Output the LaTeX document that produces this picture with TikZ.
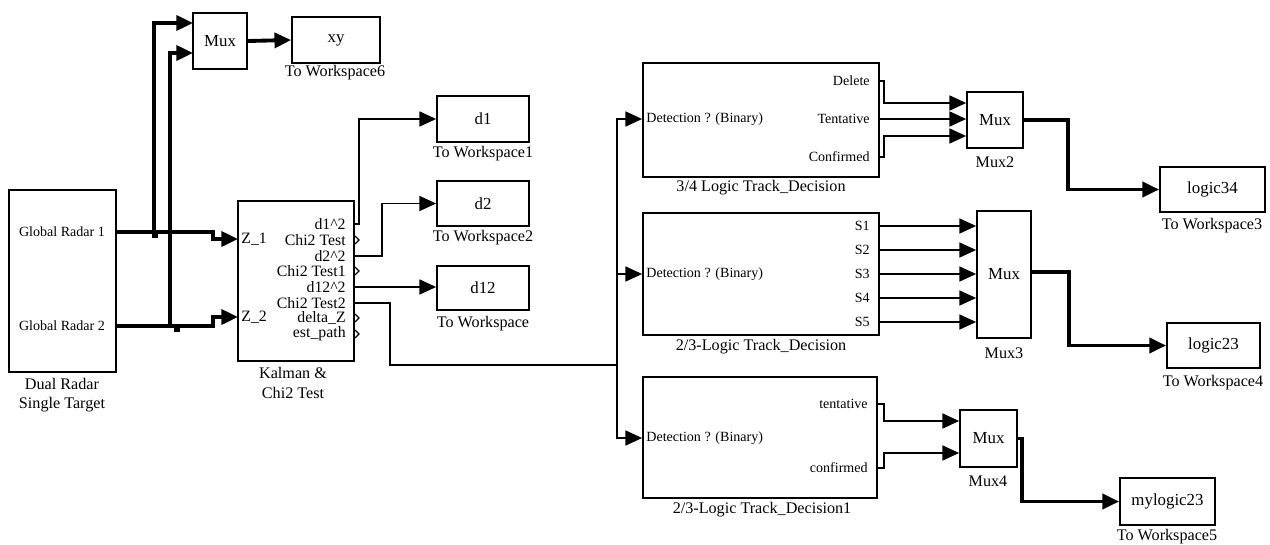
\documentclass[tikz,border=0pt]{standalone}
\usepackage{fontspec}
\setmainfont{Liberation Serif}
\usetikzlibrary{arrows.meta}
\begin{document}
\begin{tikzpicture}[x=0.02cm,y=-0.02cm,
 blk/.style={draw,line width=1pt,inner sep=0pt,font=\fontsize{9.6}{10}\selectfont},
 capt/.style={font=\fontsize{9.2}{11}\selectfont,inner sep=0pt,align=center},
 plab/.style={font=\fontsize{8}{9}\selectfont,inner sep=0pt},
 klab/.style={font=\fontsize{9}{10}\selectfont,inner sep=0pt},
 sig/.style={line width=1pt},
 sigarr/.style={sig,-{Triangle[length=9.5pt,width=8.5pt]}},
 bus/.style={line width=2.2pt},
 busarr/.style={bus,-{Triangle[length=9.5pt,width=8.5pt]}},
 jn/.style={fill,inner sep=0pt,minimum width=0.12cm,minimum height=0.11cm},
 chev/.style={line width=0.7pt}
]
\useasboundingbox (0,0) rectangle (1270,544);

% ---------- blocks ----------
\node[blk,minimum width=2.14cm,minimum height=3.64cm] (radar) at (62.5,281) {};
\node[plab] (rl1) at (62,232) {Global Radar 1};
\node[plab] (rl2) at (62,326) {Global Radar 2};
\node[capt] (radarc) at (62,395) {Dual Radar\\Single Target};

\node[blk,minimum width=2.32cm,minimum height=3.2cm] (kal) at (296,281) {};
\node[capt] (kalc) at (293,383) {Kalman \&\\Chi2 Test};
\node[klab,anchor=west] (kz1) at (241,239) {Z\_1};
\node[klab,anchor=west] (kz2) at (241,317) {Z\_2};
\node[klab,anchor=east] (kp1) at (346,224) {d1\textasciicircum 2};
\node[klab,anchor=east] (kp2) at (346,240) {Chi2 Test};
\node[klab,anchor=east] (kp3) at (346,256) {d2\textasciicircum 2};
\node[klab,anchor=east] (kp4) at (346,271) {Chi2 Test1};
\node[klab,anchor=east] (kp5) at (346,287) {d12\textasciicircum 2};
\node[klab,anchor=east] (kp6) at (346,303) {Chi2 Test2};
\node[klab,anchor=east] (kp7) at (346,318) {delta\_Z};
\node[klab,anchor=east] (kp8) at (346,334) {est\_path};

\node[blk,minimum width=1.08cm,minimum height=1.12cm] (muxT) at (220,41) {Mux};
\node[blk,minimum width=1.76cm,minimum height=0.92cm] (xy) at (336,40) {xy};
\node[capt] (xyc) at (335,73) {To Workspace6};

\node[blk,minimum width=1.84cm,minimum height=0.92cm] (d1) at (483,119) {d1};
\node[capt] (d1c) at (483,154) {To Workspace1};
\node[blk,minimum width=1.84cm,minimum height=0.9cm] (d2) at (483,203.5) {d2};
\node[capt] (d2c) at (483,238) {To Workspace2};
\node[blk,minimum width=1.84cm,minimum height=0.88cm] (d12) at (483,288) {d12};
\node[capt] (d12c) at (483,324) {To Workspace};

\node[blk,minimum width=4.72cm,minimum height=2.28cm] (L1) at (761,120) {};
\node[capt] (L1c) at (761,188) {3/4 Logic Track\_Decision};
\node[plab,anchor=west] (L1i) at (646,119) {Detection ? (Binary)};
\node[plab,anchor=east] (L1a) at (870,81) {Delete};
\node[plab,anchor=east] (L1b) at (870,119) {Tentative};
\node[plab,anchor=east] (L1d) at (870,157) {Confirmed};

\node[blk,minimum width=4.72cm,minimum height=2.44cm] (L2) at (761,274) {};
\node[capt] (L2c) at (761,347) {2/3-Logic Track\_Decision};
\node[plab,anchor=west] (L2i) at (646,274) {Detection ? (Binary)};
\node[plab,anchor=east] (S1) at (870,226) {S1};
\node[plab,anchor=east] (S2) at (870,250) {S2};
\node[plab,anchor=east] (S3) at (870,274) {S3};
\node[plab,anchor=east] (S4) at (870,298) {S4};
\node[plab,anchor=east] (S5) at (870,322) {S5};

\node[blk,minimum width=4.68cm,minimum height=2.42cm] (L3) at (760,437.5) {};
\node[capt] (L3c) at (762,510) {2/3-Logic Track\_Decision1};
\node[plab,anchor=west] (L3i) at (646,438) {Detection ? (Binary)};
\node[plab,anchor=east] (L3a) at (868,404) {tentative};
\node[plab,anchor=east] (L3b) at (868,468) {confirmed};

\node[blk,minimum width=1.12cm,minimum height=1.12cm] (mux2) at (995,120) {Mux};
\node[capt] (mux2c) at (995,162) {Mux2};
\node[blk,minimum width=1.08cm,minimum height=2.54cm] (mux3) at (1004,274.5) {Mux};
\node[capt] (mux3c) at (1004,353) {Mux3};
\node[blk,minimum width=1.14cm,minimum height=1.14cm] (mux4) at (988.5,438.5) {Mux};
\node[capt] (mux4c) at (988,481) {Mux4};

\node[blk,minimum width=2.1cm,minimum height=0.9cm] (w3) at (1212.5,189.5) {logic34};
\node[capt] (w3c) at (1212,226) {To Workspace3};
\node[blk,minimum width=1.86cm,minimum height=0.9cm] (w4) at (1213.5,345.5) {logic23};
\node[capt] (w4c) at (1213,383) {To Workspace4};
\node[blk,minimum width=1.9cm,minimum height=0.94cm] (w5) at (1167.5,501.5) {mylogic23};
\node[capt] (w5c) at (1167,537) {To Workspace5};

% ---------- ports ----------
\coordinate (r1) at (116,232);
\coordinate (r2) at (116,326);
\coordinate (k1in) at (238,239);
\coordinate (k2in) at (238,317);
\coordinate (j1) at (154,232);
\coordinate (j2) at (170,326);
\coordinate (mT1) at (193,23);
\coordinate (mT2) at (193,53);
\coordinate (br) at (617,365);

% ---------- connectors ----------
\draw[busarr] (r1) -- (213,232) -- (213,239) -- (k1in);
\draw[busarr] (r2) -- (213,326) -- (213,317) -- (k2in);
\draw[busarr] (j1) |- (mT1);
\draw[busarr] (j2) |- (mT2);
\node[jn] (jq1) at (155,235) {};
\node[jn] (jq2) at (177,329) {};
\draw[busarr] (muxT.east) -- (xy.west);

\draw[sigarr] (kal.east |- kp1) -- (359,224) |- (d1.west);
\draw[sigarr] (kal.east |- kp3) -- (382,256) |- (d2.west);
\draw[sigarr] (kal.east |- kp5) -- (d12.west |- kp5);
\draw[sig] (kal.east |- kp6) -- (390,303) |- (br);
\draw[sigarr] (br) |- (L1.west |- L1i);
\draw[sigarr] (br) |- (L2.west |- L2i);
\draw[sigarr] (br) |- (L3.west |- L3i);

\foreach \yy in {240,271,318,334}{
  \draw[chev] (355,\yy-4) -- (359,\yy) -- (355,\yy+4);
}

\draw[sigarr] (L1.east |- L1a) -- (884,81) |- (mux2.west |- 0,103);
\draw[sigarr] (L1.east |- L1b) -- (mux2.west |- L1b);
\draw[sigarr] (L1.east |- L1d) -- (884,157) |- (mux2.west |- 0,136);
\draw[busarr] (mux2.east) -- (1068,120) |- (w3.west);

\foreach \s in {S1,S2,S3,S4,S5}{
  \draw[sigarr] (L2.east |- \s) -- (mux3.west |- \s);
}
\draw[busarr] (mux3.east |- 0,272) -- (1069,272) |- (w4.west);

\draw[sigarr] (L3.east |- L3a) -- (884,404) |- (mux4.west |- 0,421);
\draw[sigarr] (L3.east |- L3b) -- (884,468) |- (mux4.west |- 0,453);
\draw[busarr] (mux4.east) -- (1022,438.5) |- (w5.west);
\end{tikzpicture}
\end{document}
